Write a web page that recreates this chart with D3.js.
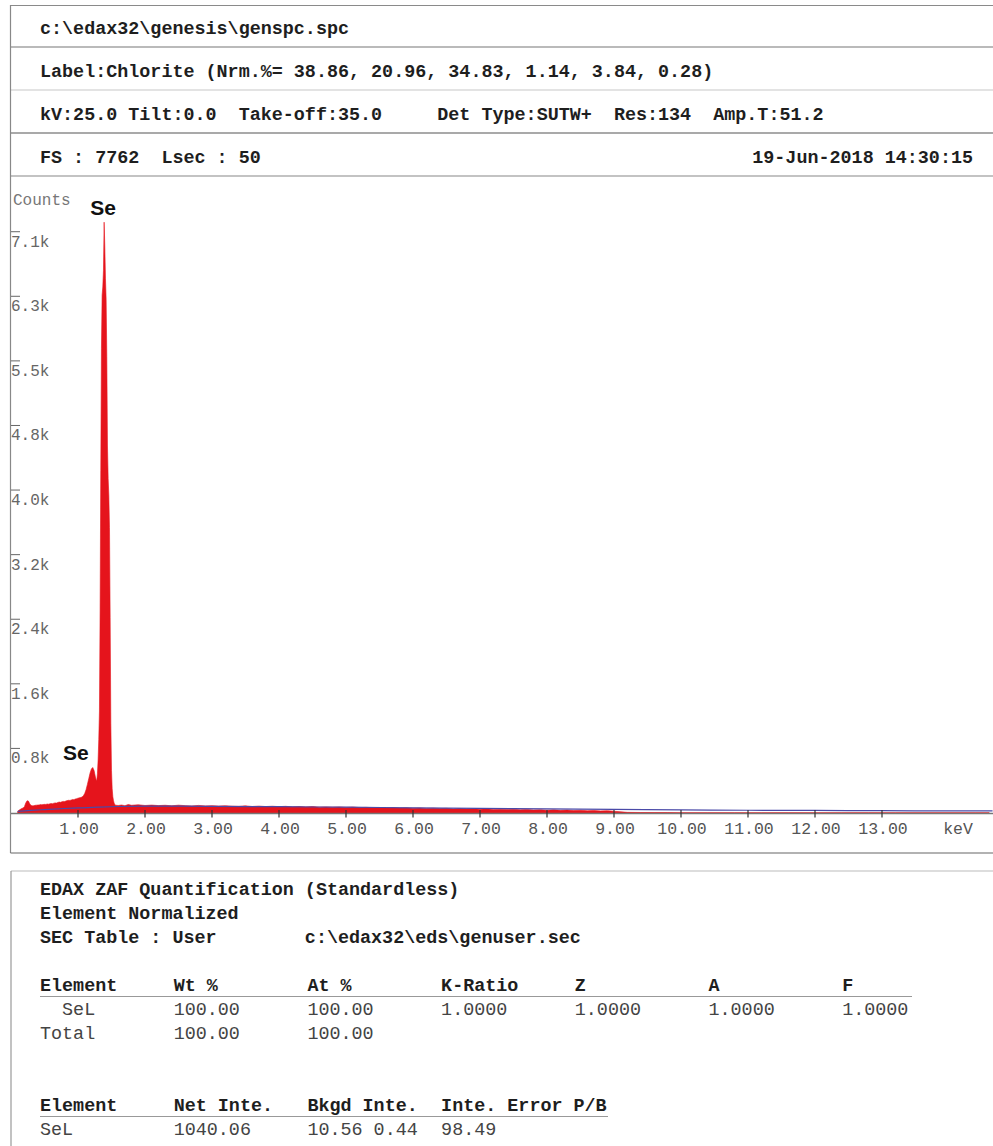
<!DOCTYPE html>
<html>
<head>
<meta charset="utf-8">
<script src="https://cdn.jsdelivr.net/npm/d3@7"></script>
<style>
  html, body { margin: 0; padding: 0; background: #fff; }
  svg { display: block; }
  text { white-space: pre; }
</style>
</head>
<body>
<svg id="chart" width="993" height="1146"></svg>
<script>
// ---- header information ----
const headerLines = [
  "c:\\edax32\\genesis\\genspc.spc",
  "Label:Chlorite (Nrm.%= 38.86, 20.96, 34.83, 1.14, 3.84, 0.28)",
  "kV:25.0 Tilt:0.0  Take-off:35.0     Det Type:SUTW+  Res:134  Amp.T:51.2",
  "FS : 7762  Lsec : 50"
];
const acquisitionDate = "19-Jun-2018 14:30:15";
const fullScale = 7762;

// ---- spectrum (energy in keV, counts) ----
const energyKeV = [
  0.10,0.12,0.14,0.16,0.18,0.20,0.22,0.24,0.26,0.28,0.30,0.32,0.34,0.36,0.38,0.40,0.42,0.44,0.46,0.48,
  0.50,0.52,0.54,0.56,0.58,0.60,0.62,0.64,0.66,0.68,0.70,0.72,0.74,0.76,0.78,0.80,0.82,0.84,0.86,0.88,
  0.90,0.92,0.94,0.96,0.98,1.00,1.02,1.04,1.06,1.08,1.10,1.12,1.14,1.16,1.18,1.20,1.22,1.24,
  1.25,1.26,1.27,1.28,1.29,1.30,1.31,1.32,1.33,1.34,1.35,1.36,1.37,1.38,1.39,1.40,1.41,1.42,1.43,1.44,
  1.45,1.46,1.47,1.48,1.49,1.50,1.51,1.52,1.53,1.54,1.55,1.56,
  1.60,1.65,1.70,1.75,
  1.8,1.9,2.0,2.1,2.2,2.3,2.4,2.5,2.6,2.7,2.8,2.9,3.0,3.1,3.2,3.3,3.4,3.5,3.6,3.7,3.8,3.9,
  4.0,4.1,4.2,4.3,4.4,4.5,4.6,4.7,4.8,4.9,5.0,5.1,5.2,5.3,5.4,5.5,5.6,5.7,5.8,5.9,
  6.0,6.1,6.2,6.3,6.4,6.5,6.6,6.7,6.8,6.9,7.0,7.1,7.2,7.3,7.4,7.5,7.6,7.7,7.8,7.9,
  8.0,8.1,8.2,8.3,8.4,8.5,8.6,8.7,8.8,8.9,9.0,
  9.2,9.4,9.6,9.8,10.0,10.4,10.8,11.2,11.6,12.0,12.4,12.8,13.2,13.6,14.0,14.4,14.6
];
const counts = [
  20,35,45,55,62,78,122,150,146,112,92,88,90,94,96,98,99,103,101,104,
  106,105,110,108,112,116,114,120,124,122,130,134,131,138,142,140,147,152,156,154,
  160,166,164,172,176,182,186,190,196,212,238,285,350,420,490,540,558,520,
  480,440,410,400,480,650,900,1250,2500,4200,5700,6350,6450,6650,7245,6950,6550,6300,5600,4500,
  4100,3900,3500,2400,1100,520,300,200,150,120,105,96,
  92,98,90,104,
  95,101,92,97,91,95,88,96,90,86,93,87,90,85,89,84,82,88,80,85,79,83,
  78,82,75,80,74,79,72,75,71,74,68,73,66,69,65,68,61,66,60,63,
  58,62,55,59,54,57,50,55,49,52,46,51,44,47,43,46,40,44,38,41,
  35,39,33,37,30,34,28,31,26,29,22,
  8,6,5,5,4,4,4,3,4,3,3,4,3,3,3,3,3
];

// fitted background
const bgEnergyKeV = [0.1,0.3,0.5,0.8,1.0,1.3,1.6,2.0,3.0,4.0,5.0,6.0,7.0,8.0,9.0,10.0,11.0,12.0,13.0,14.0,14.65];
const bgCounts    = [20,32,42,55,62,72,80,84,82,77,71,64,57,50,44,38,34,31,28,26,25];

// axes
const xTickValues = [1,2,3,4,5,6,7,8,9,10,11,12,13];
const yTickValues = [792,1584,2376,3168,3960,4752,5544,6336,7128];
const yTickLabels = ["0.8k","1.6k","2.4k","3.2k","4.0k","4.8k","5.5k","6.3k","7.1k"];

// peak labels
const peakLabels = [
  { text: "Se", energy: 1.39, value: 7245, anchor: "middle" },
  { text: "Se", energy: 1.22, value: 558, anchor: "end" }
];

// ---- quantification table ----
const quantTitle = [
  "EDAX ZAF Quantification (Standardless)",
  "Element Normalized",
  "SEC Table : User        c:\\edax32\\eds\\genuser.sec"
];
const quantColumns = ["Element","Wt %","At %","K-Ratio","Z","A","F"];
const quantRows = [
  ["  SeL","100.00","100.00","1.0000","1.0000","1.0000","1.0000"],
  ["Total","100.00","100.00","","","",""]
];
const intensityColumns = ["Element","Net Inte.","Bkgd Inte.","Inte. Error P/B"];
const intensityRows = [
  ["SeL","1040.06","10.56 0.44","98.49"]
];

// ---- drawing ----
const svg = d3.select("#chart");
const W = 993;
const mono = "'Liberation Mono','Courier New',monospace";
const ink = "#1e1e1e";

// header box
const rowLines = [5.5, 47, 90, 133, 176];
const rowColors = ["#8a8a8a", "#777", "#c8c8c8", "#555", "#888"];
svg.selectAll("line.row").data(rowLines).join("line")
  .attr("x1", 10.5).attr("x2", W).attr("y1", d => d).attr("y2", d => d)
  .attr("stroke", (d, i) => rowColors[i]).attr("stroke-width", 1.2);
svg.append("line").attr("x1", 10.5).attr("x2", 10.5).attr("y1", 5).attr("y2", 853)
  .attr("stroke", "#888").attr("stroke-width", 1.2);
svg.append("line").attr("x1", 10.5).attr("x2", W).attr("y1", 853).attr("y2", 853)
  .attr("stroke", "#666").attr("stroke-width", 1.2);

svg.selectAll("text.hdr").data(headerLines).join("text")
  .attr("x", 40).attr("y", (d, i) => (rowLines[i] + rowLines[i + 1]) / 2 + 8)
  .attr("font-family", mono).attr("font-weight", "bold").attr("font-size", 18.4)
  .attr("fill", ink).text(d => d);
svg.append("text").attr("x", 973).attr("y", (rowLines[3] + rowLines[4]) / 2 + 8)
  .attr("text-anchor", "end")
  .attr("font-family", mono).attr("font-weight", "bold").attr("font-size", 18.4)
  .attr("fill", ink).text(acquisitionDate);

// spectrum plot
const x = d3.scaleLinear().domain([0, (W - 11) / 67]).range([11, W]);
const y = d3.scaleLinear().domain([0, fullScale]).range([813, 180]);

const spectrum = energyKeV.map((e, i) => [e, counts[i]]);
const area = d3.area().x(d => x(d[0])).y0(y(0)).y1(d => y(d[1]));
svg.append("path").datum(spectrum).attr("d", area)
  .attr("fill", "#e5141c").attr("stroke", "#e5141c").attr("stroke-width", 0.6);

const background = bgEnergyKeV.map((e, i) => [e, bgCounts[i]]);
svg.append("path").datum(background)
  .attr("d", d3.line().x(d => x(d[0])).y(d => y(d[1])).curve(d3.curveMonotoneX))
  .attr("fill", "none").attr("stroke", "#4a4aa8").attr("stroke-width", 1.2);

// x axis
svg.append("line").attr("x1", 11).attr("x2", W).attr("y1", 813.5).attr("y2", 813.5)
  .attr("stroke", "#777").attr("stroke-width", 1.6);
svg.selectAll("line.xt").data(xTickValues).join("line")
  .attr("x1", d => x(d)).attr("x2", d => x(d)).attr("y1", 810).attr("y2", 817.5)
  .attr("stroke", "#333").attr("stroke-width", 1.2);
svg.selectAll("text.xl").data(xTickValues).join("text")
  .attr("x", d => x(d) + 1).attr("y", 834).attr("text-anchor", "middle")
  .attr("font-family", mono).attr("font-size", 16.5).attr("fill", "#555")
  .text(d => d3.format(".2f")(d));
svg.append("text").attr("x", 958).attr("y", 834).attr("text-anchor", "middle")
  .attr("font-family", mono).attr("font-size", 16.5).attr("fill", "#555").text("keV");

// y axis
svg.selectAll("line.yt").data(yTickValues).join("line")
  .attr("x1", 11).attr("x2", 20).attr("y1", d => y(d)).attr("y2", d => y(d))
  .attr("stroke", "#666").attr("stroke-width", 1);
svg.selectAll("text.yl").data(yTickValues).join("text")
  .attr("x", 11).attr("y", d => y(d) + 15)
  .attr("font-family", mono).attr("font-size", 16).attr("fill", "#666")
  .text((d, i) => yTickLabels[i]);
svg.append("text").attr("x", 13).attr("y", 205)
  .attr("font-family", mono).attr("font-size", 16).attr("fill", "#777").text("Counts");

// peak labels
svg.selectAll("text.peak").data(peakLabels).join("text")
  .attr("x", d => d.anchor === "end" ? x(d.energy) - 4 : x(d.energy) - 1)
  .attr("y", d => y(d.value) - 7)
  .attr("text-anchor", d => d.anchor)
  .attr("font-family", "'Liberation Sans',Arial,sans-serif").attr("font-weight", "bold")
  .attr("font-size", 21).attr("fill", "#111").text(d => d.text);

// quantification box
svg.append("line").attr("x1", 11).attr("x2", W).attr("y1", 871).attr("y2", 871)
  .attr("stroke", "#bbb").attr("stroke-width", 1.2);
svg.append("line").attr("x1", 11).attr("x2", 11).attr("y1", 871).attr("y2", 1146)
  .attr("stroke", "#999").attr("stroke-width", 1.2);

const colX = d3.scaleLinear().domain([0, 1]).range([40, 40 + 133.7]);

svg.selectAll("text.qt").data(quantTitle).join("text")
  .attr("x", 40).attr("y", (d, i) => 895 + i * 24)
  .attr("font-family", mono).attr("font-weight", "bold").attr("font-size", 18.4)
  .attr("fill", ink).text(d => d);

function table(columns, rows, headY, lineEnd) {
  svg.append("g").selectAll("text").data(columns).join("text")
    .attr("x", (d, i) => colX(i)).attr("y", headY)
    .attr("font-family", mono).attr("font-weight", "bold").attr("font-size", 18.4)
    .attr("fill", ink).text(d => d);
  svg.append("line").attr("x1", 40).attr("x2", lineEnd)
    .attr("y1", headY + 5.5).attr("y2", headY + 5.5)
    .attr("stroke", "#999").attr("stroke-width", 1.2);
  rows.forEach((row, r) => {
    svg.append("g").selectAll("text").data(row).join("text")
      .attr("x", (d, i) => colX(i)).attr("y", headY + 23.5 + r * 24)
      .attr("font-family", mono).attr("font-size", 18.4)
      .attr("fill", "#444").text(d => d);
  });
}
table(quantColumns, quantRows, 991, 912);
table(intensityColumns, intensityRows, 1111, 608);
</script>
</body>
</html>
